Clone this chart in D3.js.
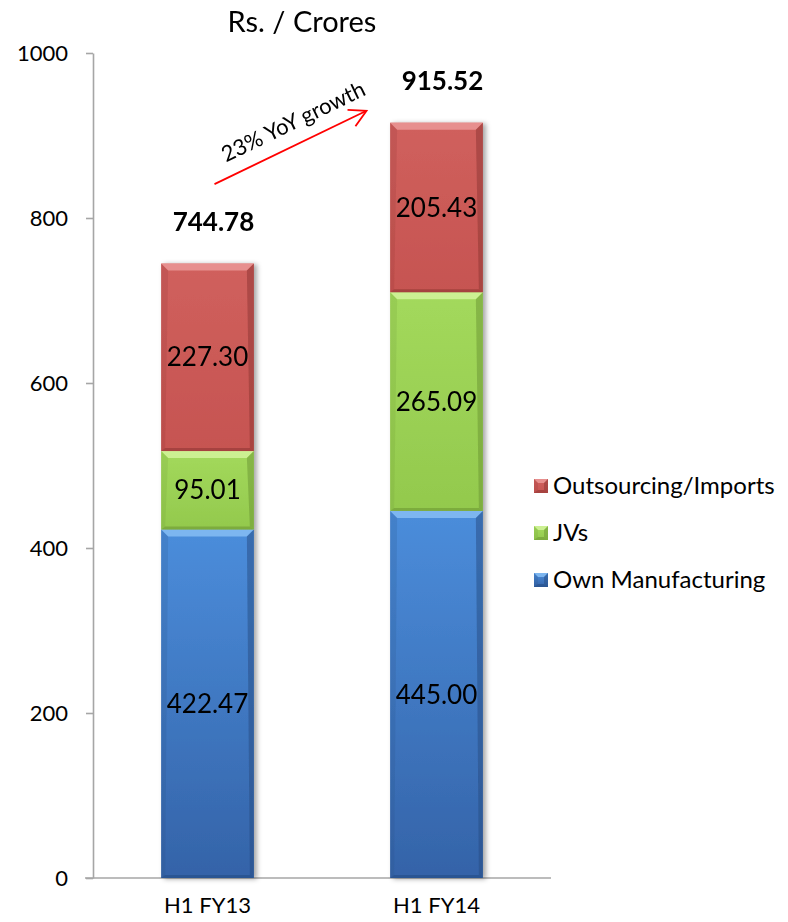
<!DOCTYPE html>
<html>
<head>
<meta charset="utf-8">
<script src="https://cdn.jsdelivr.net/npm/d3@7"></script>
<style>
  html, body { margin: 0; padding: 0; background: #fff; }
  svg { display: block; font-family: Lato, "Open Sans", sans-serif; }
</style>
</head>
<body>
<svg id="chart" width="788" height="922"></svg>
<script>
// Revenue split by source, Rs. crores
const categories = ["H1 FY13", "H1 FY14"];
const seriesNames = ["Own Manufacturing", "JVs", "Outsourcing/Imports"];
const ownManufacturing = [422.47, 445.00];
const jvs = [95.01, 265.09];
const outsourcing = [227.30, 205.43];
const totals = [744.78, 915.52];
const yTicks = [0, 200, 400, 600, 800, 1000];
const growthLabel = "23% YoY growth";

// colour per series: face top, face bottom, light bevel, dark edge
const palette = {
  "Own Manufacturing":   { top: "#4b8ddb", bottom: "#3463a8", light: "#86bdf3", dark: "#254b82" },
  "JVs":                 { top: "#a3d95c", bottom: "#93c94d", light: "#d3f59c", dark: "#6a9331" },
  "Outsourcing/Imports": { top: "#d0605d", bottom: "#c65451", light: "#eb9896", dark: "#8c3431" }
};

const svg = d3.select("#chart");
const plot = { left: 93, right: 551, top: 53, bottom: 878 };

const x = d3.scaleBand().domain(categories).range([plot.left, plot.right]).padding(0);
const barW = x.bandwidth() * 0.405;
const y = d3.scaleLinear().domain([0, 1000]).range([plot.bottom, plot.top]);

const rows = categories.map((c, i) => ({
  category: c,
  "Own Manufacturing": ownManufacturing[i],
  "JVs": jvs[i],
  "Outsourcing/Imports": outsourcing[i]
}));
const stacked = d3.stack().keys(seriesNames)(rows);

// defs: gradients + shadow
const defs = svg.append("defs");
seriesNames.forEach((name, k) => {
  const g = defs.append("linearGradient").attr("id", "grad" + k)
    .attr("x1", 0).attr("y1", 0).attr("x2", 0).attr("y2", 1);
  g.append("stop").attr("offset", "0%").attr("stop-color", palette[name].top);
  g.append("stop").attr("offset", "100%").attr("stop-color", palette[name].bottom);
});
const f = defs.append("filter").attr("id", "shadow")
  .attr("x", "-20%").attr("y", "-5%").attr("width", "140%").attr("height", "110%");
f.append("feDropShadow").attr("dx", 3).attr("dy", 1).attr("stdDeviation", 2.5)
  .attr("flood-color", "#000").attr("flood-opacity", 0.35);

// axes
const yAxis = d3.axisLeft(y).tickValues(yTicks).tickFormat(d3.format("d"))
  .tickSizeInner(7).tickSizeOuter(0).tickPadding(18);
const gy = svg.append("g").attr("transform", `translate(${plot.left},0)`).call(yAxis);
gy.select(".domain").attr("stroke", "#a6a6a6").attr("stroke-width", 1.6);
gy.selectAll(".tick line").attr("stroke", "#a6a6a6").attr("stroke-width", 1.6);
gy.selectAll(".tick text").attr("font-size", 22).attr("fill", "#000")
  .attr("font-family", "Lato, sans-serif");

const xAxis = d3.axisBottom(x).tickSize(0).tickPadding(19).tickSizeOuter(0);
const gx = svg.append("g").attr("transform", `translate(0,${plot.bottom})`).call(xAxis);
gx.select(".domain").attr("stroke", "#a6a6a6").attr("stroke-width", 1.6)
  .attr("d", `M${plot.left - 8},0H${plot.right}`);
gx.selectAll(".tick text").attr("font-size", 22).attr("fill", "#000")
  .attr("font-family", "Lato, sans-serif");

// bevelled segment drawing
function bevelSegment(g, x0, y0, w, h, col, gradId, bevel) {
  const bt = Math.min(bevel || 7, h / 3), bs = Math.min(4, bt), bb = Math.min(3, bt);
  g.append("rect").attr("x", x0).attr("y", y0).attr("width", w).attr("height", h)
    .attr("fill", `url(#${gradId})`);
  // top light bevel
  g.append("polygon")
    .attr("points", [[x0, y0], [x0 + w, y0], [x0 + w - bt, y0 + bt], [x0 + bt, y0 + bt]].join(" "))
    .attr("fill", col.light).attr("opacity", 0.85);
  // left edge
  g.append("polygon")
    .attr("points", [[x0, y0], [x0 + bt, y0 + bt], [x0 + bs, y0 + h - bb], [x0, y0 + h]].join(" "))
    .attr("fill", col.dark).attr("opacity", 0.18);
  // right edge
  g.append("polygon")
    .attr("points", [[x0 + w, y0], [x0 + w, y0 + h], [x0 + w - bs, y0 + h - bb], [x0 + w - bt, y0 + bt]].join(" "))
    .attr("fill", col.dark).attr("opacity", 0.5);
  // bottom edge
  g.append("polygon")
    .attr("points", [[x0, y0 + h], [x0 + w, y0 + h], [x0 + w - bs, y0 + h - bb], [x0 + bs, y0 + h - bb]].join(" "))
    .attr("fill", col.dark).attr("opacity", 0.55);
}

const bars = svg.append("g").attr("filter", "url(#shadow)");
stacked.forEach((layer, k) => {
  const col = palette[layer.key];
  layer.forEach(d => {
    const cx = x(d.data.category) + x.bandwidth() / 2;
    const y0 = y(d[1]), y1 = y(d[0]);
    bevelSegment(bars.append("g"), cx - barW / 2, y0, barW, y1 - y0, col, "grad" + k);
  });
});

// segment value labels
const labels = svg.append("g").attr("font-size", 26).attr("text-anchor", "middle").attr("fill", "#000");
stacked.forEach(layer => {
  layer.forEach(d => {
    const cx = x(d.data.category) + x.bandwidth() / 2;
    labels.append("text").attr("x", cx).attr("y", (y(d[0]) + y(d[1])) / 2)
      .attr("dy", "0.35em").text(d3.format(".2f")(d[1] - d[0]));
  });
});

// totals above bars
svg.append("g").selectAll("text").data(categories).join("text")
  .attr("x", c => x(c) + x.bandwidth() / 2 + 6)
  .attr("y", (c, i) => y(totals[i]) - 33)
  .attr("text-anchor", "middle").attr("font-size", 26).attr("font-weight", "bold")
  .text((c, i) => d3.format(".2f")(totals[i]));

// title
svg.append("text").attr("x", 302).attr("y", 32).attr("text-anchor", "middle")
  .attr("font-size", 29).text("Rs. / Crores");

// growth arrow between the two totals
const ax0 = x(categories[0]) + x.bandwidth() / 2 + 7, ay0 = y(841);
const ax1 = x(categories[1]) + x.bandwidth() / 2 - 70, ay1 = y(930);
const ang = Math.atan2(ay1 - ay0, ax1 - ax0);
const head = 19, spread = 0.5;
const arrow = svg.append("g").attr("stroke", "#ff0000").attr("stroke-width", 1.8).attr("fill", "none");
arrow.append("line").attr("x1", ax0).attr("y1", ay0).attr("x2", ax1).attr("y2", ay1);
arrow.append("path").attr("d",
  `M${ax1 - head * Math.cos(ang - spread)},${ay1 - head * Math.sin(ang - spread)}` +
  `L${ax1},${ay1}` +
  `L${ax1 - head * Math.cos(ang + spread)},${ay1 - head * Math.sin(ang + spread)}`);
const mx = (ax0 + ax1) / 2 + 6, my = (ay0 + ay1) / 2 - 19;
svg.append("text").attr("transform", `translate(${mx},${my}) rotate(${ang * 180 / Math.PI})`)
  .attr("text-anchor", "middle").attr("font-size", 22).text(growthLabel);

// legend (top to bottom: last stacked series first)
const legend = svg.append("g").attr("transform", "translate(534,486)");
seriesNames.slice().reverse().forEach((name, i) => {
  const g = legend.append("g").attr("transform", `translate(0,${i * 47})`);
  const k = seriesNames.indexOf(name);
  bevelSegment(g, 0, -7, 14, 14, palette[name], "grad" + k, 4);
  g.append("text").attr("x", 19).attr("y", 0).attr("dy", "0.35em")
    .attr("font-size", 24).text(name);
});
</script>
</body>
</html>
